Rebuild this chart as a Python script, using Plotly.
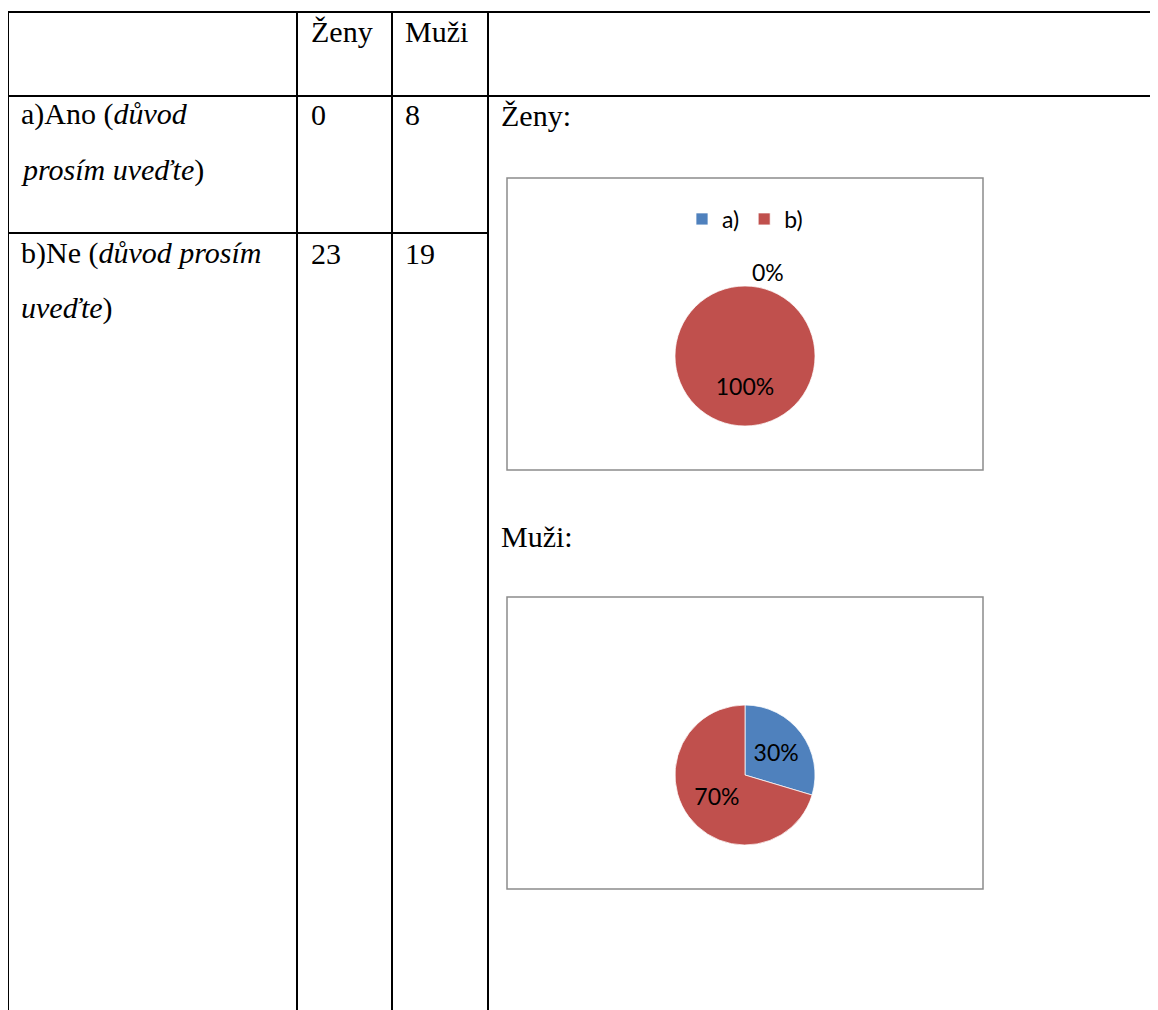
import plotly.graph_objects as go

# window size and the page's body offset (default 8px browser margin)
WIN_W, WIN_H = 1158, 1010
OFF = 8
W, H = WIN_W - OFF, WIN_H - OFF

# ---- data ----
groups = ["Ženy", "Muži"]
answer_labels = ["a)", "b)"]
row_a_lines = ["a)Ano (<i>důvod</i>", "<i>prosím uveďte</i>)"]
row_b_lines = ["b)Ne (<i>důvod prosím</i>", "<i>uveďte</i>)"]
zeny_counts = [0, 23]
muzi_counts = [8, 19]
slice_colors = ["#4F81BD", "#C0504D"]

SERIF = "Liberation Serif"
SANS = "Lato"


def px(x):
    return (x - OFF) / W


def py(y):
    return 1 - (y - OFF) / H


fig = go.Figure()


def pie_domain(cx, cy, r):
    return dict(x=[px(cx - r), px(cx + r)], y=[py(cy + r), py(cy - r)])


PCT = "%{percent:.0%}"
# full-circle label sits in the lower half of the pie (as in the original chart)
LOW_PCT = "<span style='color:rgba(0,0,0,0)'>" + PCT + "</span><br><br>" + PCT

# ---- pies ----
fig.add_trace(go.Pie(
    labels=answer_labels, values=zeny_counts, sort=False, direction="clockwise",
    rotation=0, marker=dict(colors=slice_colors, line=dict(color="white", width=0.75)),
    texttemplate=[PCT, LOW_PCT],
    textposition=["outside", "inside"],
    textfont=dict(family=SANS, size=23, color="black"),
    insidetextorientation="horizontal", domain=pie_domain(745, 356, 70),
    legend="legend", hoverinfo="label+value+percent", name="Ženy",
))
fig.add_trace(go.Pie(
    labels=answer_labels, values=muzi_counts, sort=False, direction="clockwise",
    rotation=0, marker=dict(colors=slice_colors, line=dict(color="white", width=0.75)),
    texttemplate=PCT, textposition="inside",
    textfont=dict(family=SANS, size=23, color="black"),
    insidetextorientation="horizontal", domain=pie_domain(745, 775, 70),
    legend="legend2", hoverinfo="label+value+percent", name="Muži",
))

# ---- table lines and chart frames ----
shapes = []


def line(x0, y0, x1, y1, color="black", width=2):
    shapes.append(dict(type="line", xref="paper", yref="paper",
                       x0=px(x0), y0=py(y0), x1=px(x1), y1=py(y1),
                       line=dict(color=color, width=width)))


line(8, 12, WIN_W, 12)
line(8, 96, WIN_W, 96)
line(8, 233, 488, 233)
for xv in (8, 297, 392, 488):
    line(xv, 12, xv, WIN_H)

for (x0, y0, x1, y1) in [(507, 178, 983, 470), (507, 597, 983, 889)]:
    shapes.append(dict(type="rect", xref="paper", yref="paper",
                       x0=px(x0), y0=py(y0), x1=px(x1), y1=py(y1),
                       line=dict(color="#8C8C8C", width=1.5), fillcolor="rgba(0,0,0,0)"))

# ---- texts ----
annotations = []


def text(t, x, y):
    annotations.append(dict(text=t, x=px(x), y=py(y), xref="paper", yref="paper",
                            xanchor="left", yanchor="middle", showarrow=False,
                            font=dict(family=SERIF, size=30, color="black")))


text(groups[0], 309, 32)
text(groups[1], 403, 32)
text(row_a_lines[0], 19, 114)
text(row_a_lines[1], 19, 170)
text(row_b_lines[0], 19, 253)
text(row_b_lines[1], 19, 308)
text(str(zeny_counts[0]), 309, 114)
text(str(muzi_counts[0]), 403, 114)
text(str(zeny_counts[1]), 309, 253)
text(str(muzi_counts[1]), 403, 253)
text(groups[0] + ":", 499, 115)
text(groups[1] + ":", 499, 536)

legend_style = dict(orientation="h", xanchor="center", yanchor="middle",
                    font=dict(family=SANS, size=23, color="black"),
                    bgcolor="rgba(0,0,0,0)", itemwidth=30, traceorder="normal")

fig.update_layout(
    width=W, height=H, margin=dict(l=0, r=0, t=0, b=0),
    paper_bgcolor="white", plot_bgcolor="white",
    shapes=shapes, annotations=annotations,
    legend=dict(x=px(745), y=py(219), **legend_style),
    legend2=dict(x=px(745), y=py(638), **legend_style),
    showlegend=True,
)

fig.write_html("out.html", config={"displayModeBar": False})
